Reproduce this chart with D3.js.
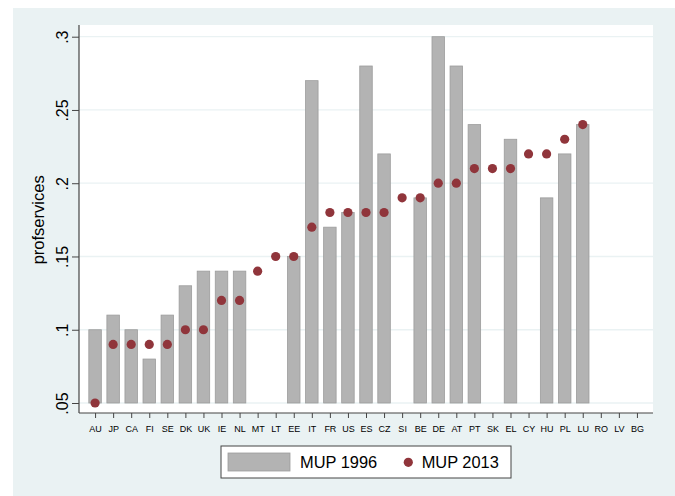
<!DOCTYPE html>
<html>
<head>
<meta charset="utf-8">
<script src="https://cdn.jsdelivr.net/npm/d3@7"></script>
<style>
  html, body { margin: 0; padding: 0; background: #ffffff; }
  svg { display: block; font-family: "Liberation Sans", Arial, sans-serif; }
</style>
</head>
<body>
<svg id="chart" width="675" height="496"></svg>
<script>
const categories = ["AU","JP","CA","FI","SE","DK","UK","IE","NL","MT","LT","EE","IT","FR","US","ES","CZ","SI","BE","DE","AT","PT","SK","EL","CY","HU","PL","LU","RO","LV","BG"];
const mup1996 = [0.10,0.11,0.10,0.08,0.11,0.13,0.14,0.14,0.14,null,null,0.15,0.27,0.17,0.18,0.28,0.22,null,0.19,0.30,0.28,0.24,null,0.23,null,0.19,0.22,0.24,null,null,null];
const mup2013 = [0.05,0.09,0.09,0.09,0.09,0.10,0.10,0.12,0.12,0.14,0.15,0.15,0.17,0.18,0.18,0.18,0.18,0.19,0.19,0.20,0.20,0.21,0.21,0.21,0.22,0.22,0.23,0.24,null,null,null];
const yTicks = [0.05, 0.10, 0.15, 0.20, 0.25, 0.30];
const yTickLabels = [".05", ".1", ".15", ".2", ".25", ".3"];
const seriesNames = ["MUP 1996", "MUP 2013"];

const W = 675, H = 496;
const bgColor = "#eaf2f3";
const barFill = "#b3b3b3", barStroke = "#9c9c9c";
const dotColor = "#90353b";

const svg = d3.select("#chart");
// graph region
svg.append("rect").attr("x", 13).attr("y", 8).attr("width", W - 13).attr("height", H - 8).attr("fill", bgColor);

const plot = { left: 79, top: 25, right: 653, bottom: 413 };
const pw = plot.right - plot.left, ph = plot.bottom - plot.top;

const g = svg.append("g").attr("transform", `translate(${plot.left},${plot.top})`);
g.append("rect").attr("width", pw).attr("height", ph).attr("fill", "#ffffff");

const x = d3.scalePoint().domain(categories).range([0, pw]).padding(0.89);
const y = d3.scaleLinear().domain([0.05, 0.30]).range([ph - 10, 11.7]);

// gridlines
g.selectAll("line.grid").data(yTicks).enter().append("line")
  .attr("x1", 0).attr("x2", pw)
  .attr("y1", d => y(d)).attr("y2", d => y(d))
  .attr("stroke", bgColor).attr("stroke-width", 1.3);

// bars
const barW = 12.5;
const barData = categories.map((c, i) => ({ c, v: mup1996[i] })).filter(d => d.v != null);
g.selectAll("rect.bar").data(barData).enter().append("rect")
  .attr("x", d => x(d.c) - barW / 2)
  .attr("y", d => y(d.v))
  .attr("width", barW)
  .attr("height", d => y(0.05) - y(d.v))
  .attr("fill", barFill).attr("stroke", barStroke).attr("stroke-width", 0.8);

// dots
const dotData = categories.map((c, i) => ({ c, v: mup2013[i] })).filter(d => d.v != null);
g.selectAll("circle.dot").data(dotData).enter().append("circle")
  .attr("cx", d => x(d.c)).attr("cy", d => y(d.v)).attr("r", 4.6)
  .attr("fill", dotColor);

// y axis
const yAxis = d3.axisLeft(y).tickValues(yTicks).tickFormat((d, i) => yTickLabels[i]).tickSize(7).tickPadding(0);
const ya = g.append("g").call(yAxis);
ya.select(".domain").attr("d", `M0,0V${ph}`).attr("stroke", "#444").attr("stroke-width", 1.2);
ya.selectAll(".tick line").attr("stroke", "#444").attr("stroke-width", 1);
ya.selectAll(".tick text")
  .attr("x", null).attr("dy", null)
  .attr("transform", "translate(-11,0) rotate(-90)")
  .attr("text-anchor", "middle")
  .attr("font-size", 16).attr("fill", "#000")
  .style("font-family", "Liberation Sans, Arial, sans-serif");

// x axis
const xAxis = d3.axisBottom(x).tickSize(5).tickPadding(8);
const xa = g.append("g").attr("transform", `translate(0,${ph})`).call(xAxis);
xa.select(".domain").attr("d", `M0,0H${pw}`).attr("stroke", "#444").attr("stroke-width", 1.2);
xa.selectAll(".tick line").attr("stroke", "#444");
xa.selectAll(".tick text").attr("font-size", 9).attr("fill", "#000")
  .style("font-family", "Liberation Sans, Arial, sans-serif");

// y title
svg.append("text")
  .attr("transform", `translate(44,${plot.top + y(0.175)}) rotate(-90)`)
  .attr("text-anchor", "middle").attr("font-size", 16.5).attr("fill", "#000")
  .text("profservices");

// legend
const lg = svg.append("g");
lg.append("rect").attr("x", 221).attr("y", 446).attr("width", 290).attr("height", 32)
  .attr("fill", "#fff").attr("stroke", "#444").attr("stroke-width", 1);
lg.append("rect").attr("x", 228).attr("y", 453).attr("width", 62).attr("height", 18)
  .attr("fill", barFill).attr("stroke", barStroke).attr("stroke-width", 0.8);
lg.append("text").attr("x", 300).attr("y", 468).attr("font-size", 16.4).attr("fill", "#000").text(seriesNames[0]);
lg.append("circle").attr("cx", 408.3).attr("cy", 462.3).attr("r", 4.6).attr("fill", dotColor);
lg.append("text").attr("x", 421.7).attr("y", 468).attr("font-size", 16.4).attr("fill", "#000").text(seriesNames[1]);
</script>
</body>
</html>
